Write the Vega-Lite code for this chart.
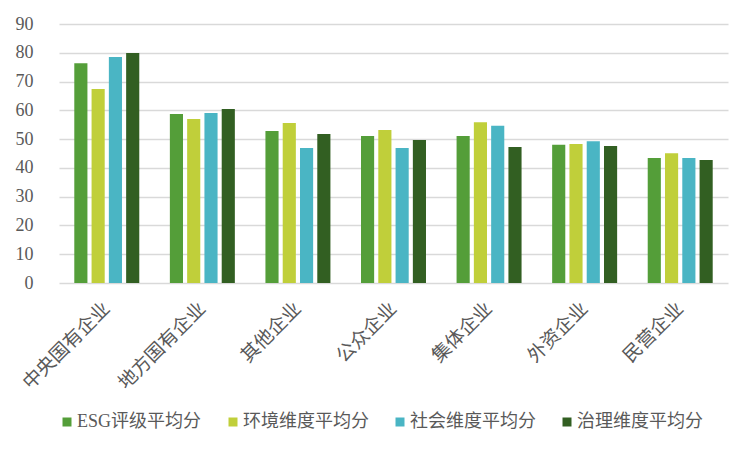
{
  "$schema": "https://vega.github.io/schema/vega-lite/v6.json",
  "width": 669,
  "height": 259,
  "autosize": {"type": "none"},
  "padding": {"left": 59, "top": 24, "right": 24, "bottom": 169},
  "background": "white",
  "data": {
    "values": [
      {"type": "中央国有企业", "metric": "ESG评级平均分", "score": 76.4},
      {"type": "中央国有企业", "metric": "环境维度平均分", "score": 67.4},
      {"type": "中央国有企业", "metric": "社会维度平均分", "score": 78.5},
      {"type": "中央国有企业", "metric": "治理维度平均分", "score": 79.9},
      {"type": "地方国有企业", "metric": "ESG评级平均分", "score": 58.7},
      {"type": "地方国有企业", "metric": "环境维度平均分", "score": 57.0},
      {"type": "地方国有企业", "metric": "社会维度平均分", "score": 59.1},
      {"type": "地方国有企业", "metric": "治理维度平均分", "score": 60.5},
      {"type": "其他企业", "metric": "ESG评级平均分", "score": 52.8},
      {"type": "其他企业", "metric": "环境维度平均分", "score": 55.6},
      {"type": "其他企业", "metric": "社会维度平均分", "score": 46.9},
      {"type": "其他企业", "metric": "治理维度平均分", "score": 51.8},
      {"type": "公众企业", "metric": "ESG评级平均分", "score": 51.1},
      {"type": "公众企业", "metric": "环境维度平均分", "score": 53.2},
      {"type": "公众企业", "metric": "社会维度平均分", "score": 46.9},
      {"type": "公众企业", "metric": "治理维度平均分", "score": 49.7},
      {"type": "集体企业", "metric": "ESG评级平均分", "score": 51.1},
      {"type": "集体企业", "metric": "环境维度平均分", "score": 55.9},
      {"type": "集体企业", "metric": "社会维度平均分", "score": 54.6},
      {"type": "集体企业", "metric": "治理维度平均分", "score": 47.3},
      {"type": "外资企业", "metric": "ESG评级平均分", "score": 48.0},
      {"type": "外资企业", "metric": "环境维度平均分", "score": 48.3},
      {"type": "外资企业", "metric": "社会维度平均分", "score": 49.3},
      {"type": "外资企业", "metric": "治理维度平均分", "score": 47.6},
      {"type": "民营企业", "metric": "ESG评级平均分", "score": 43.4},
      {"type": "民营企业", "metric": "环境维度平均分", "score": 45.1},
      {"type": "民营企业", "metric": "社会维度平均分", "score": 43.4},
      {"type": "民营企业", "metric": "治理维度平均分", "score": 42.7}
    ]
  },
  "mark": {"type": "bar"},
  "encoding": {
    "x": {
      "field": "type",
      "type": "nominal",
      "sort": null,
      "scale": {"paddingInner": 0.32, "paddingOuter": 0.16},
      "axis": {
        "title": null,
        "labelAngle": -45,
        "labelAlign": "right",
        "labelBaseline": "middle",
        "labelPadding": 22,
        "labelFontSize": 19,
        "labelColor": "#595959",
        "labelFont": "Noto Sans CJK SC",
        "ticks": false,
        "domain": false,
        "grid": false
      }
    },
    "xOffset": {
      "field": "metric",
      "type": "nominal",
      "sort": ["ESG评级平均分", "环境维度平均分", "社会维度平均分", "治理维度平均分"],
      "scale": {"paddingInner": 0.24}
    },
    "y": {
      "field": "score",
      "type": "quantitative",
      "scale": {"domain": [0, 90], "nice": false},
      "axis": {
        "title": null,
        "values": [0, 10, 20, 30, 40, 50, 60, 70, 80, 90],
        "labelFontSize": 18,
        "labelFont": "Liberation Serif",
        "labelColor": "#595959",
        "labelPadding": 26,
        "ticks": false,
        "domain": false,
        "gridColor": "#d9d9d9",
        "gridWidth": 1.5
      }
    },
    "color": {
      "field": "metric",
      "type": "nominal",
      "sort": ["ESG评级平均分", "环境维度平均分", "社会维度平均分", "治理维度平均分"],
      "scale": {
        "domain": ["ESG评级平均分", "环境维度平均分", "社会维度平均分", "治理维度平均分"],
        "range": ["#549e39", "#c0cf3a", "#4ab5c4", "#325f22"]
      },
      "legend": {
        "title": null,
        "orient": "none",
        "legendX": -1,
        "legendY": 389,
        "direction": "horizontal",
        "columns": 4,
        "symbolType": "square",
        "symbolSize": 81,
        "symbolStrokeWidth": 0,
        "labelFontSize": 18,
        "labelFont": "Liberation Serif, Noto Sans CJK SC",
        "labelColor": "#595959",
        "labelOffset": 1,
        "columnPadding": 22,
        "padding": 0,
        "labelLimit": 300
      }
    }
  },
  "config": {
    "view": {"stroke": null}
  }
}
